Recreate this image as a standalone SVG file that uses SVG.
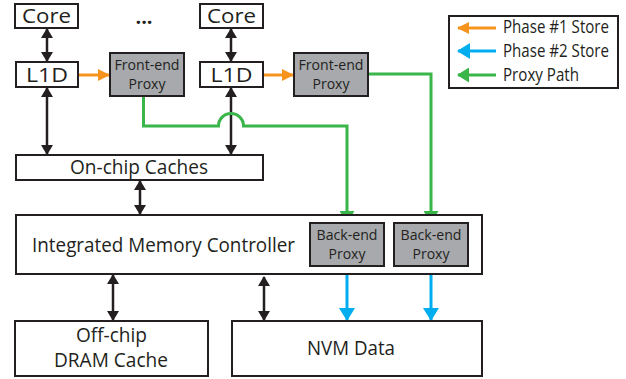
<svg xmlns="http://www.w3.org/2000/svg" width="626" height="379" viewBox="0 0 626 379">
<style>
.box{fill:#fff;stroke:#231f20;stroke-width:2}
.px{fill:#a7a9ac;stroke:#231f20;stroke-width:2}
text{font-family:"Open Sans","Liberation Sans",sans-serif;fill:#231f20;text-anchor:middle}
.big{font-size:20px}
.sm{font-size:14.5px}
.lg{font-size:17.5px;text-anchor:start}
.blk{stroke:#231f20;stroke-width:2.5;fill:none;marker-start:url(#ab);marker-end:url(#ab)}
.grn{stroke:#39b54a;stroke-width:3;fill:none}
.blu{stroke:#00aeef;stroke-width:3;fill:none}
.org{stroke:#f7941d;stroke-width:3;fill:none}
</style>
<defs>
<marker id="ab" markerUnits="userSpaceOnUse" viewBox="0 0 10 12" markerWidth="10" markerHeight="12" refX="9" refY="6" orient="auto-start-reverse"><path d="M0,0L10,6L0,12z" fill="#231f20"/></marker>
<marker id="ag" markerUnits="userSpaceOnUse" viewBox="0 0 12 15" markerWidth="12" markerHeight="15" refX="11" refY="7.5" orient="auto"><path d="M0,0L12,7.5L0,15z" fill="#39b54a"/></marker>
<marker id="abl" markerUnits="userSpaceOnUse" viewBox="0 0 13 16" markerWidth="13" markerHeight="16" refX="12" refY="8" orient="auto"><path d="M0,0L13,8L0,16z" fill="#00aeef"/></marker>
<marker id="ao" markerUnits="userSpaceOnUse" viewBox="0 0 12 12" markerWidth="12" markerHeight="12" refX="11" refY="6" orient="auto"><path d="M0,0L12,6L0,12z" fill="#f7941d"/></marker>
</defs>

<g id="connectors">
<line class="blk" x1="47" y1="29" x2="47" y2="61"/>
<line class="blk" x1="231" y1="29" x2="231" y2="61"/>
<line class="blk" x1="47" y1="88" x2="47" y2="154"/>
<line class="blk" x1="231" y1="88" x2="231" y2="154"/>
<line class="blk" x1="140" y1="181" x2="140" y2="214"/>
<line class="blk" x1="113" y1="275" x2="113" y2="320"/>
<line class="blk" x1="264" y1="277" x2="264" y2="320"/>
<line class="org" x1="79" y1="75" x2="109" y2="75" marker-end="url(#ao)"/>
<line class="org" x1="264" y1="75" x2="293" y2="75" marker-end="url(#ao)"/>
<path class="grn" d="M143.5,96V126H218.5A12.5,12.5 0 0 1 243.5,126H347V222" marker-end="url(#ag)"/>
<path class="grn" d="M368,74H431V222" marker-end="url(#ag)"/>
<line class="blu" x1="347" y1="267" x2="347" y2="320" marker-end="url(#abl)"/>
<line class="blu" x1="431" y1="267" x2="431" y2="320" marker-end="url(#abl)"/>
</g>

<g id="core1"><rect class="box" x="15" y="4" width="63" height="24"/><text class="big" x="46.5" y="22.5" textLength="49" lengthAdjust="spacingAndGlyphs">Core</text></g>
<g id="core2"><rect class="box" x="200" y="4" width="63" height="24"/><text class="big" x="231.5" y="22.5" textLength="49" lengthAdjust="spacingAndGlyphs">Core</text></g>
<g id="ellipsis"><text class="big" x="144" y="24" font-weight="bold">...</text></g>
<g id="l1d1"><rect class="box" x="16" y="62" width="62" height="25"/><text class="big" x="47" y="82" textLength="42" lengthAdjust="spacingAndGlyphs">L1D</text></g>
<g id="l1d2"><rect class="box" x="200" y="62" width="63" height="25"/><text class="big" x="231.5" y="82" textLength="42" lengthAdjust="spacingAndGlyphs">L1D</text></g>
<g id="fe1"><rect class="px" x="110" y="53" width="74" height="43"/><text class="sm" x="147" y="70" textLength="65" lengthAdjust="spacingAndGlyphs">Front-end</text><text class="sm" x="147" y="89" textLength="37" lengthAdjust="spacingAndGlyphs">Proxy</text></g>
<g id="fe2"><rect class="px" x="294" y="53" width="74" height="43"/><text class="sm" x="331" y="70" textLength="65" lengthAdjust="spacingAndGlyphs">Front-end</text><text class="sm" x="331" y="89" textLength="37" lengthAdjust="spacingAndGlyphs">Proxy</text></g>
<g id="onchip"><rect class="box" x="16" y="155" width="247" height="25"/><text class="big" x="139" y="174" textLength="138" lengthAdjust="spacingAndGlyphs">On-chip Caches</text></g>
<g id="imc"><rect class="box" x="16" y="215" width="466" height="59"/><text class="big" x="163.5" y="252" textLength="263" lengthAdjust="spacingAndGlyphs">Integrated Memory Controller</text></g>
<g id="be1"><rect class="px" x="310" y="223" width="74" height="43"/><text class="sm" x="347" y="240" textLength="61" lengthAdjust="spacingAndGlyphs">Back-end</text><text class="sm" x="347" y="259" textLength="37" lengthAdjust="spacingAndGlyphs">Proxy</text></g>
<g id="be2"><rect class="px" x="394" y="223" width="74" height="43"/><text class="sm" x="431" y="240" textLength="61" lengthAdjust="spacingAndGlyphs">Back-end</text><text class="sm" x="431" y="259" textLength="37" lengthAdjust="spacingAndGlyphs">Proxy</text></g>
<g id="dram"><rect class="box" x="15" y="321" width="193" height="55"/><text class="big" x="111.5" y="342" textLength="71" lengthAdjust="spacingAndGlyphs">Off-chip</text><text class="big" x="111" y="367" textLength="114" lengthAdjust="spacingAndGlyphs">DRAM Cache</text></g>
<g id="nvm"><rect class="box" x="232" y="321" width="250" height="55"/><text class="big" x="351" y="355" textLength="88" lengthAdjust="spacingAndGlyphs">NVM Data</text></g>

<g id="legend">
<rect class="box" x="449" y="16" width="169" height="72"/>
<line class="org" x1="496" y1="28" x2="458" y2="28" marker-end="url(#ao)"/>
<line class="blu" x1="496" y1="51" x2="458" y2="51" marker-end="url(#abl)"/>
<line class="grn" x1="496" y1="75" x2="458" y2="75" marker-end="url(#ag)"/>
<text class="lg" x="503" y="33" textLength="106" lengthAdjust="spacingAndGlyphs">Phase #1 Store</text>
<text class="lg" x="503" y="57" textLength="106" lengthAdjust="spacingAndGlyphs">Phase #2 Store</text>
<text class="lg" x="503" y="81" textLength="76" lengthAdjust="spacingAndGlyphs">Proxy Path</text>
</g>
</svg>
